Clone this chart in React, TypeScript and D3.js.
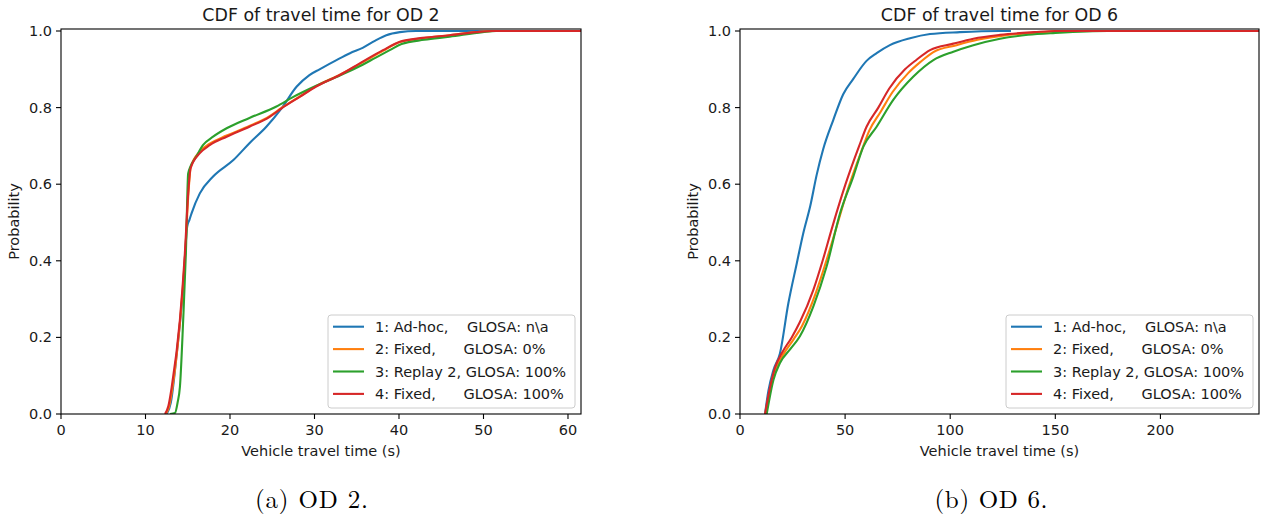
import React from "react";
import * as d3 from "d3";

type Pt = [number, number];

// ---------- OD 2 (left) ----------
const od2Blue: Pt[] = [[12.5,0],[13.0,0.03],[13.7,0.158],[14.46,0.332],[14.93,0.489],[15.2,0.507],[15.45,0.524],[16.43,0.576],[18.0,0.62],[20.4,0.663],[22.3,0.707],[24.3,0.75],[26.1,0.798],[27.9,0.855],[29.4,0.885],[30.6,0.9],[32.6,0.924],[34.2,0.942],[35.7,0.956],[37.2,0.975],[38.5,0.989],[40.1,0.997],[42.0,1.0],[55,1.0]];
const od2Orange: Pt[] = [[12.4,0],[12.8,0.02],[13.2,0.07],[14.1,0.245],[14.7,0.42],[15.08,0.576],[15.36,0.645],[16.4,0.685],[17.6,0.706],[19.6,0.727],[22.3,0.752],[24.7,0.778],[26.1,0.799],[28.25,0.829],[30.2,0.856],[33.0,0.886],[35.7,0.918],[38.1,0.948],[40.1,0.971],[42.8,0.981],[46.0,0.989],[49.1,0.997],[51.0,1.0],[58,1.0]];
const od2Green: Pt[] = [[12.9,0],[13.5,0.003],[13.8,0.03],[14.07,0.07],[14.46,0.245],[14.78,0.42],[15.05,0.628],[15.3,0.645],[16.0,0.672],[16.8,0.702],[18.0,0.724],[19.6,0.746],[22.3,0.773],[25.5,0.803],[27.5,0.828],[30.2,0.857],[33.0,0.884],[35.7,0.912],[37.2,0.93],[38.9,0.95],[40.3,0.966],[43,0.977],[46.0,0.985],[49.9,0.997],[51.5,1.0],[59.3,1.0]];
const od2Red: Pt[] = [[12.3,0],[12.7,0.02],[13.1,0.07],[14.07,0.245],[14.66,0.42],[15.05,0.576],[15.33,0.641],[16.43,0.681],[17.6,0.702],[19.6,0.724],[22.3,0.75],[24.7,0.776],[26.1,0.798],[28.25,0.828],[30.2,0.855],[33.0,0.885],[35.7,0.92],[38.1,0.95],[40.1,0.972],[42.8,0.982],[46.0,0.989],[49.1,0.997],[51.1,1.0],[61.6,1.0]];

// ---------- OD 6 (right) ----------
const od6Blue: Pt[] = [[11.9,0],[13.5,0.06],[15.9,0.115],[19.0,0.158],[23.0,0.289],[27.0,0.393],[30.1,0.472],[33.5,0.545],[36.5,0.625],[39.5,0.69],[44.4,0.768],[49.1,0.835],[53.9,0.875],[60.2,0.922],[65.0,0.942],[71.3,0.963],[80.9,0.981],[90.4,0.992],[104.6,0.997],[123.7,1.0],[128.9,1.0]];
const od6Orange: Pt[] = [[12.1,0],[14.5,0.07],[16.8,0.115],[20.5,0.155],[25.5,0.195],[29.5,0.23],[36,0.315],[40.5,0.39],[45.5,0.48],[51.5,0.59],[58,0.69],[61.5,0.74],[67,0.79],[72.5,0.84],[80,0.89],[86,0.92],[92,0.945],[103,0.963],[113,0.977],[125,0.988],[142,0.996],[155,1.0],[200,1.0]];
const od6Green: Pt[] = [[12.7,0],[15.9,0.089],[19.0,0.133],[24,0.17],[28.5,0.203],[34.9,0.281],[41.2,0.385],[47.6,0.524],[53.9,0.62],[58.7,0.698],[65.0,0.75],[72.9,0.82],[82.5,0.881],[92.0,0.924],[101.5,0.946],[111.0,0.963],[123.7,0.98],[137,0.99],[150,0.995],[165,0.999],[175,1.0],[205.5,1.0]];
const od6Red: Pt[] = [[11.9,0],[14.3,0.07],[16.6,0.12],[20,0.16],[24.6,0.2],[28.5,0.24],[34.9,0.324],[39.3,0.4],[44,0.49],[50.2,0.6],[56.7,0.7],[60.2,0.75],[65.8,0.8],[71,0.85],[78.5,0.9],[84,0.925],[90.4,0.95],[101.5,0.967],[111,0.98],[123.7,0.99],[140,0.997],[150,1.0],[247,1.0]];

const legendLabels = [
  "1: Ad-hoc,    GLOSA: n\\a",
  "2: Fixed,      GLOSA: 0%",
  "3: Replay 2, GLOSA: 100%",
  "4: Fixed,      GLOSA: 100%",
];
const colors = ["#1f77b4", "#ff7f0e", "#2ca02c", "#d62728"];
const yTicks = [0, 0.2, 0.4, 0.6, 0.8, 1.0];
const xTicksOD2 = [0, 10, 20, 30, 40, 50, 60];
const xTicksOD6 = [0, 50, 100, 150, 200];

const FONT = "'DejaVu Sans', sans-serif";
const TXT = "#1a1a1a";

interface PanelProps {
  id: string;
  title: string;
  caption: string;
  captionX: number;
  x0: number;
  x1: number;
  xMax: number;
  xTicks: number[];
  series: Pt[][];
}

function Panel(p: PanelProps) {
  const yBottom = 414, yTop1 = 31, frameTop = 29;
  const x = d3.scaleLinear().domain([0, p.xMax]).range([p.x0, p.x1]);
  const y = d3.scaleLinear().domain([0, 1]).range([yBottom, yTop1]);
  const line = d3.line<Pt>().x(d => x(d[0])).y(d => y(d[1])).curve(d3.curveMonotoneX);
  const cx = (p.x0 + p.x1) / 2;
  const cy = (frameTop + yBottom) / 2;
  const lg = { x: p.x1 - 253, y: 315, w: 247, h: 93 };
  return (
    <g>
      <defs>
        <clipPath id={p.id}>
          <rect x={p.x0} y={frameTop} width={p.x1 - p.x0} height={yBottom - frameTop} />
        </clipPath>
      </defs>
      <g clipPath={`url(#${p.id})`}>
        {p.series.map((s, i) => (
          <path key={i} d={line(s) || ""} fill="none" stroke={colors[i]} strokeWidth={2.1} strokeLinejoin="round" />
        ))}
      </g>
      <rect x={p.x0} y={frameTop} width={p.x1 - p.x0} height={yBottom - frameTop} fill="none" stroke="#000" strokeWidth={1.1} />
      {p.xTicks.map(t => (
        <g key={t}>
          <line x1={x(t)} x2={x(t)} y1={yBottom} y2={yBottom + 5} stroke="#000" strokeWidth={1.1} />
          <text x={x(t)} y={yBottom + 21} textAnchor="middle" fontSize={14.5} fontFamily={FONT} fill={TXT}>{t}</text>
        </g>
      ))}
      {yTicks.map(t => (
        <g key={t}>
          <line x1={p.x0 - 5} x2={p.x0} y1={y(t)} y2={y(t)} stroke="#000" strokeWidth={1.1} />
          <text x={p.x0 - 9} y={y(t) + 5} textAnchor="end" fontSize={14.5} fontFamily={FONT} fill={TXT}>{d3.format(".1f")(t)}</text>
        </g>
      ))}
      <text x={cx} y={20.5} textAnchor="middle" fontSize={17.4} fontFamily={FONT} fill={TXT}>{p.title}</text>
      <text x={cx} y={456} textAnchor="middle" fontSize={14.5} fontFamily={FONT} fill={TXT}>Vehicle travel time (s)</text>
      <text transform={`translate(${p.x0 - 42},${cy}) rotate(-90)`} textAnchor="middle" fontSize={14.5} fontFamily={FONT} fill={TXT}>Probability</text>
      <rect x={lg.x} y={lg.y} width={lg.w} height={lg.h} rx={3} fill="#fff" fillOpacity={0.8} stroke="#cccccc" strokeWidth={1} />
      {legendLabels.map((l, i) => {
        const ry = 326.7 + i * 22.4;
        return (
          <g key={i}>
            <line x1={lg.x + 5} x2={lg.x + 36} y1={ry} y2={ry} stroke={colors[i]} strokeWidth={2.1} />
            <text x={lg.x + 47} y={ry + 5} fontSize={14.5} fontFamily={FONT} fill={TXT} xmlSpace="preserve" style={{ whiteSpace: "pre" }}>{l}</text>
          </g>
        );
      })}
      <text x={p.captionX} y={508} textAnchor="middle" fontSize={25} fontFamily="'Latin Modern Roman','Liberation Serif', serif" fill="#000" textLength={113} lengthAdjust="spacing">{p.caption}</text>
    </g>
  );
}

export default function App() {
  return (
    <svg width={1262} height={519} style={{ position: "absolute", left: 0, top: 0, background: "#fff" }}>
      <rect x={0} y={0} width={1262} height={519} fill="#fff" />
      <Panel id="c2" title="CDF of travel time for OD 2" caption="(a) OD 2." captionX={311.5}
        x0={61} x1={581} xMax={61.54} xTicks={xTicksOD2} series={[od2Blue, od2Orange, od2Green, od2Red]} />
      <Panel id="c6" title="CDF of travel time for OD 6" caption="(b) OD 6." captionX={991}
        x0={740} x1={1259} xMax={246.9} xTicks={xTicksOD6} series={[od6Blue, od6Orange, od6Green, od6Red]} />
    </svg>
  );
}
